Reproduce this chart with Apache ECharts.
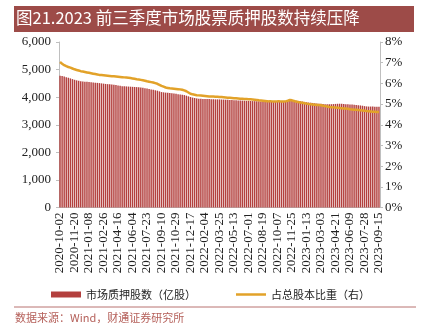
<!DOCTYPE html>
<html><head><meta charset="utf-8">
<script src="https://cdn.jsdelivr.net/npm/echarts@6/dist/echarts.min.js"></script>
<style>html,body{margin:0;padding:0;background:#fff}#c{width:423px;height:334px}</style>
</head><body><div id="c"></div>
<script>
// Weekly categories from 2020-10-02 to 2023-09-15
var startDate = '2020-10-02';
var weekCount = 155;
var dates = [];
(function(){
  var d = new Date(startDate + 'T00:00:00Z');
  for (var i = 0; i < weekCount; i++) {
    var t = new Date(d.getTime() + i * 7 * 86400000);
    dates.push(t.toISOString().slice(0, 10));
  }
})();

var pledgedShares = [
  4780,4765,4745,4725,4705,4680,4655,4630,4610,4595,
  4580,4570,4560,4555,4548,4540,4532,4525,4518,4510,
  4500,4490,4480,4472,4465,4458,4450,4440,4425,4410,
  4400,4395,4390,4385,4380,4375,4370,4365,4360,4350,
  4340,4325,4310,4295,4280,4265,4250,4235,4210,4185,
  4175,4165,4160,4150,4140,4130,4120,4110,4100,4090,
  4075,4055,4030,4005,3985,3970,3955,3945,3940,3935,
  3935,3930,3930,3925,3925,3920,3920,3918,3915,3912,
  3908,3905,3900,3895,3890,3885,3880,3878,3875,3872,
  3868,3865,3862,3858,3855,3850,3848,3845,3842,3840,
  3838,3836,3835,3840,3845,3842,3840,3838,3845,3860,
  3880,3900,3895,3885,3870,3860,3850,3840,3830,3815,
  3805,3800,3790,3780,3770,3762,3758,3750,3745,3742,
  3740,3745,3750,3755,3760,3762,3760,3750,3745,3740,
  3735,3730,3725,3718,3710,3700,3690,3675,3665,3660,
  3660,3658,3655,3655,3650
];

var shareRatio = [
  7.03,6.95,6.88,6.83,6.79,6.76,6.72,6.68,6.65,6.62,
  6.59,6.57,6.55,6.53,6.51,6.49,6.47,6.45,6.43,6.41,
  6.40,6.39,6.38,6.37,6.36,6.35,6.34,6.33,6.32,6.31,
  6.30,6.29,6.28,6.27,6.26,6.24,6.22,6.20,6.19,6.17,
  6.15,6.13,6.10,6.08,6.06,6.04,6.01,5.98,5.93,5.88,
  5.84,5.80,5.78,5.76,5.75,5.74,5.73,5.72,5.71,5.69,
  5.66,5.62,5.56,5.50,5.47,5.45,5.43,5.42,5.41,5.40,
  5.39,5.38,5.37,5.36,5.36,5.35,5.35,5.34,5.34,5.33,
  5.32,5.31,5.30,5.29,5.28,5.28,5.27,5.26,5.26,5.25,
  5.24,5.23,5.23,5.22,5.21,5.20,5.18,5.17,5.16,5.15,
  5.14,5.13,5.13,5.12,5.12,5.13,5.13,5.12,5.12,5.13,
  5.16,5.20,5.18,5.15,5.12,5.10,5.08,5.06,5.04,5.02,
  5.00,4.99,4.98,4.97,4.96,4.95,4.94,4.92,4.90,4.88,
  4.86,4.85,4.84,4.83,4.82,4.81,4.80,4.79,4.78,4.77,
  4.75,4.74,4.73,4.72,4.71,4.70,4.69,4.68,4.66,4.65,
  4.64,4.63,4.63,4.62,4.62
];

var titleText = '图21.2023 前三季度市场股票质押股数持续压降';
var barName = '市场质押股数（亿股）';
var lineName = '占总股本比重（右）';
var sourceText = '数据来源：Wind，财通证券研究所';

var serif = '"Liberation Serif","DejaVu Serif",serif';
var cjk = '"Noto Sans CJK SC","Liberation Serif",sans-serif';

var chart = echarts.init(document.getElementById('c'), null, {renderer: 'canvas'});
chart.setOption({
  animation: false,
  backgroundColor: '#fff',
  graphic: [
    {type: 'rect', shape: {x: 14, y: 6, width: 400, height: 26}, style: {fill: '#9d4b48'}},
    {type: 'text', left: 16, top: 9, style: {text: titleText, fill: '#fff', font: '16.5px ' + cjk}},
    {type: 'line', shape: {x1: 14, y1: 307, x2: 416, y2: 307}, style: {stroke: '#b87370', lineWidth: 1}},
    {type: 'text', left: 15, top: 312, style: {text: sourceText, fill: '#b5605a', font: '11px ' + cjk}}
  ],
  legend: {
    left: 46, top: 284, itemGap: 40, itemWidth: 30, itemHeight: 6,
    textStyle: {fontFamily: cjk, fontSize: 11, color: '#222'},
    data: [
      {name: barName, icon: 'rect'},
      {name: lineName, icon: 'path://M0,0 L60,0 L60,5 L0,5 Z'}
    ]
  },
  grid: {left: 59, right: 43, top: 42, bottom: 126.5, containLabel: false},
  xAxis: {
    type: 'category', data: dates,
    axisLine: {show: true, lineStyle: {color: '#bfbfbf'}},
    axisTick: {show: false},
    axisLabel: {rotate: 90, interval: 6, margin: 5, fontFamily: serif, fontSize: 13, color: '#222'}
  },
  yAxis: [
    {
      type: 'value', min: 0, max: 6000, interval: 1000,
      axisLine: {show: true, lineStyle: {color: '#bfbfbf'}},
      axisTick: {show: true, length: 3, lineStyle: {color: '#bfbfbf'}},
      splitLine: {show: false},
      axisLabel: {fontFamily: serif, fontSize: 13, color: '#222', margin: 8,
        formatter: function(v){ return v.toLocaleString('en-US'); }}
    },
    {
      type: 'value', min: 0, max: 8, interval: 1, position: 'right',
      axisLine: {show: true, lineStyle: {color: '#bfbfbf'}},
      axisTick: {show: true, length: 3, lineStyle: {color: '#bfbfbf'}},
      splitLine: {show: false},
      axisLabel: {fontFamily: serif, fontSize: 13, color: '#222', margin: 5,
        formatter: function(v){ return v + '%'; }}
    }
  ],
  series: [
    {
      name: barName, type: 'bar', data: pledgedShares, yAxisIndex: 0,
      barCategoryGap: '30%',
      itemStyle: {color: '#b3403e'}
    },
    {
      name: lineName, type: 'line', data: shareRatio, yAxisIndex: 1,
      showSymbol: false, symbol: 'none',
      lineStyle: {color: '#e2a229', width: 2.5},
      itemStyle: {color: '#e2a229'}
    }
  ]
});
</script>
</body></html>
